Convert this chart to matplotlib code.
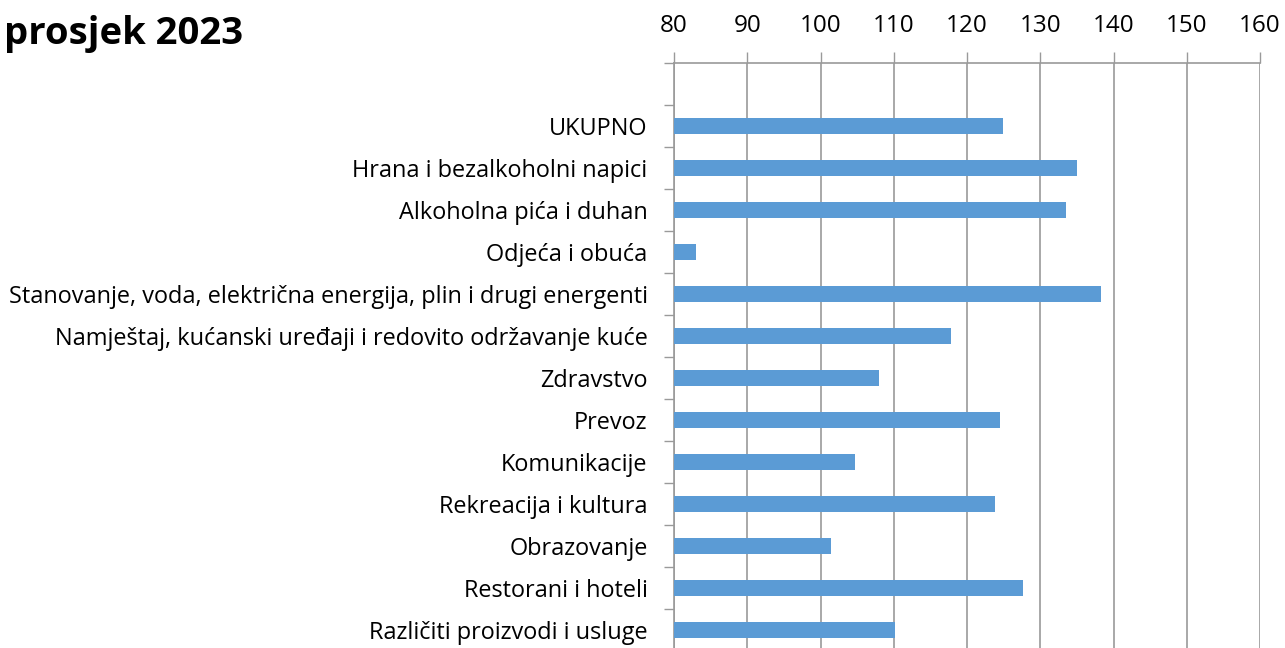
import matplotlib.pyplot as plt
from matplotlib.ticker import MultipleLocator

# kategorije (prvi red je prazan, kao u originalu)
kategorije = [
    "UKUPNO",
    "Hrana i bezalkoholni napici",
    "Alkoholna pića i duhan",
    "Odjeća i obuća",
    "Stanovanje, voda, električna energija, plin i drugi energenti",
    "Namještaj, kućanski uređaji i redovito održavanje kuće",
    "Zdravstvo",
    "Prevoz",
    "Komunikacije",
    "Rekreacija i kultura",
    "Obrazovanje",
    "Restorani i hoteli",
    "Različiti proizvodi i usluge",
]
vrijednosti = [124.9, 135.0, 133.5, 83.0, 138.3, 117.8, 108.0, 124.5,
               104.7, 123.8, 101.4, 127.6, 110.2]

naslov = "prosjek 2023"
osnova = 80
x_min, x_max = 80, 160

plt.rcParams['font.family'] = ['Open Sans', 'DejaVu Sans']

fig = plt.figure(figsize=(12.85, 6.48), dpi=100)
ax = fig.add_axes([674 / 1285, -3 / 648, 586 / 1285, 588 / 648])

pozicije = list(range(1, len(kategorije) + 1))
duljine = [v - osnova for v in vrijednosti]
ax.barh(pozicije, duljine, left=osnova, height=0.4, color='#5B9BD5', zorder=3)

ax.set_xlim(x_min, x_max)
ax.set_ylim(len(kategorije) + 0.5, -0.5)

# os x gore
ax.xaxis.set_ticks_position('top')
ax.xaxis.set_label_position('top')
ax.xaxis.set_major_locator(MultipleLocator(10))
ax.tick_params(axis='x', length=8, width=1, color='#9a9a9a', pad=10,
               labelsize=17.5, labelcolor='black')
ax.grid(axis='x', color='#9a9a9a', linewidth=1.2, zorder=0)

# os y: nazivi kategorija, crtice na granicama
ax.set_yticks(pozicije)
ax.set_yticklabels(kategorije)
ax.set_yticks([i - 0.5 for i in range(len(kategorije) + 2)], minor=True)
ax.tick_params(axis='y', which='major', length=0, pad=19, labelsize=16.9,
               labelcolor='black')
ax.tick_params(axis='y', which='minor', length=7, width=1, color='#9a9a9a')

for s in ['right', 'bottom']:
    ax.spines[s].set_visible(False)
for s in ['left', 'top']:
    ax.spines[s].set_color('#9a9a9a')
    ax.spines[s].set_linewidth(1.2)

fig.text(243 / 1285, 1 - 34 / 648, naslov, ha='right', va='center',
         fontsize=27.5, fontweight='bold')

plt.savefig('out.png', dpi=100)
